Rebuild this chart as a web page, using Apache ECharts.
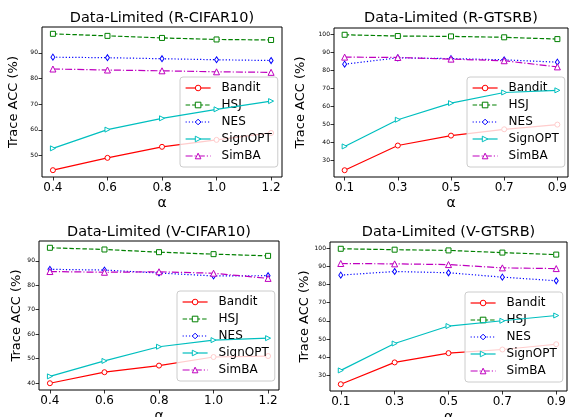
<!DOCTYPE html>
<html>
<head>
<meta charset="utf-8">
<script src="https://cdn.jsdelivr.net/npm/echarts@6/dist/echarts.min.js"></script>
<style>
    html, body { margin: 0; padding: 0; background: #fff; }
    #box { width: 570px; height: 417px; }
</style>
</head>
<body>
<div id="box"></div>
<script>
// 数据
var methods = ['Bandit', 'HSJ', 'NES', 'SignOPT', 'SimBA'];
var alphaCifar = [0.4, 0.6, 0.8, 1.0, 1.2];
var alphaGtsrb = [0.1, 0.3, 0.5, 0.7, 0.9];

var rCifarBandit  = [44.3, 49.1, 53.4, 56.1, 58.8];
var rCifarHSJ     = [97.4, 96.6, 95.8, 95.2, 95.0];
var rCifarNES     = [88.3, 88.1, 87.7, 87.3, 87.0];
var rCifarSignOPT = [52.8, 60.1, 64.5, 68.0, 71.2];
var rCifarSimBA   = [83.7, 83.3, 83.0, 82.6, 82.4];

var rGtsrbBandit  = [24.7, 38.4, 43.9, 47.4, 50.0];
var rGtsrbHSJ     = [99.8, 99.1, 98.9, 98.4, 97.4];
var rGtsrbNES     = [83.5, 87.0, 86.6, 85.9, 84.6];
var rGtsrbSignOPT = [37.9, 52.7, 61.9, 67.8, 69.0];
var rGtsrbSimBA   = [87.4, 87.2, 86.3, 85.4, 82.0];

var vCifarBandit  = [40.0, 44.5, 47.2, 50.7, 51.1];
var vCifarHSJ     = [95.3, 94.6, 93.5, 92.7, 92.0];
var vCifarNES     = [86.5, 86.2, 85.0, 83.8, 83.9];
var vCifarSignOPT = [42.8, 49.1, 54.9, 57.6, 58.4];
var vCifarSimBA   = [85.6, 85.3, 85.5, 84.9, 82.8];

var vGtsrbBandit  = [25.1, 37.1, 42.2, 44.2, 47.1];
var vGtsrbHSJ     = [99.6, 99.1, 98.7, 97.5, 96.4];
var vGtsrbNES     = [85.1, 87.1, 86.4, 84.0, 82.0];
var vGtsrbSignOPT = [32.7, 47.5, 57.1, 60.0, 62.9];
var vGtsrbSimBA   = [91.5, 91.3, 90.9, 89.1, 88.7];

var ticksRCifar = [50, 60, 70, 80, 90];
var ticksRGtsrb = [30, 40, 50, 60, 70, 80, 90, 100];
var ticksVCifar = [40, 50, 60, 70, 80, 90];
var ticksVGtsrb = [30, 40, 50, 60, 70, 80, 90, 100];

window.onload = function () {
    var charts = echarts.init(document.getElementById('box'), null, {renderer: 'canvas'});
    var font = 'DejaVu Sans';

    var colors = ['#ff0000', '#008000', '#0000ff', '#00bfbf', '#bf00bf'];
    var dashes = ['solid', [4.5, 2], [1.2, 2], 'solid', [7, 2, 1.2, 2]];
    var symbols = ['circle', 'rect', 'diamond', 'path://M0,0L10,5L0,10Z', 'triangle'];
    var sizes = [5, 5, [4, 6], 5, 6];

    var panels = [
        {title: 'Data-Limited (R-CIFAR10)', x: alphaCifar, ticks: ticksRCifar,
         data: [rCifarBandit, rCifarHSJ, rCifarNES, rCifarSignOPT, rCifarSimBA],
         grid: {left: 42, top: 27, width: 240, height: 150}, titleTop: 11, yGap: 22, legend: {left: 180, top: 77}},
        {title: 'Data-Limited (R-GTSRB)', x: alphaGtsrb, ticks: ticksRGtsrb,
         data: [rGtsrbBandit, rGtsrbHSJ, rGtsrbNES, rGtsrbSignOPT, rGtsrbSimBA],
         grid: {left: 334, top: 28, width: 234, height: 149}, titleTop: 11, yGap: 27, legend: {left: 467, top: 77}},
        {title: 'Data-Limited (V-CIFAR10)', x: alphaCifar, ticks: ticksVCifar,
         data: [vCifarBandit, vCifarHSJ, vCifarNES, vCifarSignOPT, vCifarSimBA],
         grid: {left: 39, top: 241, width: 240, height: 149}, titleTop: 225, yGap: 15, legend: {left: 177, top: 291}},
        {title: 'Data-Limited (V-GTSRB)', x: alphaGtsrb, ticks: ticksVGtsrb,
         data: [vGtsrbBandit, vGtsrbHSJ, vGtsrbNES, vGtsrbSignOPT, vGtsrbSimBA],
         grid: {left: 330, top: 242, width: 237, height: 149}, titleTop: 225, yGap: 18, legend: {left: 465, top: 292}}
    ];

    // matplotlib 默认留 5% 边距
    function range(arr) {
        var lo = Math.min.apply(null, arr), hi = Math.max.apply(null, arr);
        var m = (hi - lo) * 0.05;
        return [lo - m, hi + m];
    }

    // 图例项（空心标记 + 线型）
    var legendData = methods.map(function (m, k) {
        return {
            name: m,
            itemStyle: {color: '#fff', borderColor: colors[k], borderWidth: 1},
            lineStyle: {color: colors[k], width: 1.2, type: dashes[k]}
        };
    });

    var option = {
        animation: false,
        backgroundColor: '#fff',
        textStyle: {fontFamily: font},
        title: [], grid: [], xAxis: [], yAxis: [], legend: [], series: []
    };

    panels.forEach(function (p, i) {
        var g = p.grid;
        var allY = [].concat.apply([], p.data);
        var xr = range(p.x), yr = range(allY);

        option.title.push({
            text: p.title, left: g.left + g.width / 2, top: p.titleTop, textAlign: 'center', padding: 0,
            textStyle: {fontFamily: font, fontSize: 14.5, fontWeight: 'normal', color: '#000'}
        });
        option.grid.push({
            left: g.left, top: g.top, width: g.width, height: g.height,
            show: true, borderColor: '#000', borderWidth: 1, outerBoundsMode: 'none'
        });
        option.xAxis.push({
            type: 'value', gridIndex: i, min: xr[0], max: xr[1],
            axisLine: {show: false}, splitLine: {show: false},
            axisTick: {show: true, length: 3.5, customValues: p.x, lineStyle: {color: '#000', width: 0.8}},
            axisLabel: {customValues: p.x, margin: 5, fontSize: 12, color: '#000', fontFamily: font,
                formatter: function (v) { return v.toFixed(1); }},
            name: 'α', nameLocation: 'middle', nameGap: 19,
            nameTextStyle: {fontSize: 14, color: '#000', fontFamily: font}
        });
        option.yAxis.push({
            type: 'value', gridIndex: i, min: yr[0], max: yr[1],
            axisLine: {show: false}, splitLine: {show: false},
            axisTick: {show: true, length: 3.5, customValues: p.ticks, lineStyle: {color: '#000', width: 0.8}},
            axisLabel: {customValues: p.ticks, margin: 4, fontSize: 6, color: '#000', fontFamily: font},
            name: 'Trace ACC (%)', nameLocation: 'middle', nameRotate: 90, nameGap: p.yGap,
            nameTextStyle: {fontSize: 13, color: '#000', fontFamily: font}
        });
        option.legend.push({
            data: legendData, orient: 'vertical', left: p.legend.left, top: p.legend.top,
            selectedMode: false, itemWidth: 25, itemHeight: 7, itemGap: 5,
            padding: [5, 6, 5, 5],
            backgroundColor: 'rgba(255,255,255,0.8)', borderColor: '#cccccc', borderWidth: 1, borderRadius: 3,
            textStyle: {fontSize: 12, color: '#000', fontFamily: font, padding: [0, 0, 0, 6]}
        });
        methods.forEach(function (m, k) {
            option.series.push({
                name: m, type: 'line', xAxisIndex: i, yAxisIndex: i,
                data: p.x.map(function (xv, j) { return [xv, p.data[k][j]]; }),
                symbol: symbols[k], symbolSize: sizes[k], showAllSymbol: true,
                lineStyle: {color: colors[k], width: 1.2, type: dashes[k]},
                itemStyle: {color: '#fff', borderColor: colors[k], borderWidth: 1},
                emphasis: {disabled: true}, silent: true, z: 2 + k
            });
        });
    });

    charts.setOption(option);
};
</script>
</body>
</html>
